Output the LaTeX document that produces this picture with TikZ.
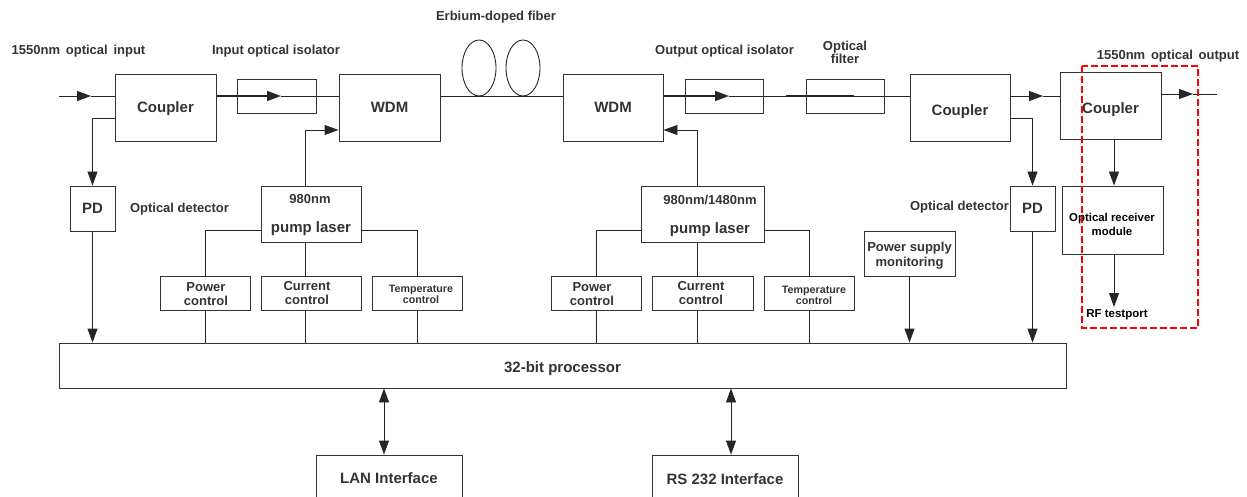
\documentclass[tikz,border=0pt]{standalone}
\usepackage{fontspec}
\setmainfont{Liberation Sans}
\usetikzlibrary{arrows.meta}
\definecolor{inkgray}{gray}{.2}
\newcommand{\smalltemp}{\fontsize{10.7}{11}\selectfont}
\tikzset{
  box/.style={draw=inkgray,line width=.9pt,inner sep=0pt,align=center,text=inkgray,font=\bfseries\fontsize{13}{14}\selectfont},
  bigbox/.style={box,font=\bfseries\fontsize{15}{16}\selectfont,text depth=0pt},
  tag/.style={inner sep=0pt,align=center,text=inkgray,font=\bfseries\fontsize{13}{13.5}\selectfont},
  wire/.style={draw=black!85,line width=.9pt},
  arr/.style={wire,-{Triangle[length=14pt,width=10pt]}},
  twoarr/.style={wire,{Triangle[length=14pt,width=10pt]}-{Triangle[length=14pt,width=10pt]}}
}
\begin{document}
\begin{tikzpicture}[x=1pt,y=-1pt]
      \clip (0,0) rectangle (1247,497);
      \foreach \n/\x/\y/\w/\h in {IsoA/276.5/96/79/34, IsoB/724/96/78/34, FilterA/845/96/78/34,
        PumpA/311/214/100/56, PumpB/702.5/214/123/56, RecvA/1112.5/220/101/68, SupplyA/909.5/253.5/91/45}{
        \node[box,minimum width=\w,minimum height=\h](\n) at (\x,\y){};
      }
      \foreach \n/\x/\w/\tx/\ty/\t in {PowerA/205/90/206/294/{Power\\control}, CurrentA/311/100/307/293/{Current\\control},
        TempA/417/90/421/294.5/{\smalltemp Temperature\\[-3pt]\smalltemp control},
        PowerB/596/90/592/294/{Power\\control}, CurrentB/702.5/101/701/293.5/{Current\\control},
        TempB/809/90/814/295/{\smalltemp Temperature\\[-3pt]\smalltemp control}}{
        \node[box,minimum width=\w,minimum height=34](\n) at (\x,293){};
        \node[box,draw=none](\n Text) at (\tx,\ty){\t};
      }
      \foreach \n/\x/\y/\w/\h/\d/\t in {CouplerA/165.5/107.5/101/67/11/Coupler, WdmA/389.5/107.5/101/67/11/WDM, WdmB/613/107.5/100/67/11/WDM,
        CouplerB/960/107.5/100/67/16/Coupler, CouplerC/1110.5/105.5/101/67/16/Coupler,
        PdA/92.5/208.5/45/45/11/PD, PdB/1032.5/208.5/45/45/11/PD,
        Proc/562.5/365.5/1007/45/14/32-bit processor,
        LanA/389/478/146/46/11/LAN Interface, RsA/725/478/146/46/12/RS 232 Interface}{
        \node[bigbox,text height=\d pt,minimum width=\w,minimum height=\h](\n) at (\x,\y){\t};
      }
      \node[box,draw=none](LbSupply) at (909.5,255.5){Power supply\\[1pt]monitoring};
      \node[tag](LbInput) at (78.5,51){1550nm\, optical\, input};
      \node[tag](LbIsoA) at (276,51){Input optical isolator};
      \node[tag](LbFiber) at (496,17){Erbium-doped fiber};
      \node[tag](LbIsoB) at (724.5,51){Output optical isolator};
      \node[tag](LbFilter) at (845,52.5){Optical\\filter};
      \node[tag](LbOutput) at (1168,56){1550nm\, optical\, output};
      \node[tag](LbDetA) at (179.5,209){Optical detector};
      \node[tag](LbDetB) at (959.5,207){Optical detector};
      \node[tag](LbPumpA) at (310,199.5){980nm};
      \node[bigbox,draw=none,text height=11pt](LbLaserA) at (311,227){pump laser};
      \node[tag](LbPumpB) at (710,200){980nm/1480nm};
      \node[bigbox,draw=none,text height=11pt](LbLaserB) at (710,228){pump laser};
      \node[tag,text=black,font=\bfseries\fontsize{11.4}{14}\selectfont](LbRecv) at (1112,224){Optical receiver\\module};
      \node[tag,text=black,font=\bfseries\fontsize{11.5}{14}\selectfont](LbRf) at (1117,315){RF testport};
      \coordinate(InEnd) at (59,96);
      \coordinate(InTip) at (91,96);
      \coordinate(IsoTipA) at (281,96);
      \coordinate(IsoTipB) at (729,96);
      \coordinate(FilterL) at (786,96);
      \coordinate(FilterR) at (854,96);
      \coordinate(MidTip) at (1043,96);
      \coordinate(OutTip) at (1193,94);
      \coordinate(OutEnd) at (1217,94);
      \coordinate(TapA) at (92.5,118);
      \coordinate(TapB) at (1032.5,118);
      \coordinate(FeedA) at (305,130);
      \coordinate(FeedB) at (697,130);
      \coordinate(RecvX) at (1114,140);
      \coordinate(RfTip) at (1114,307);
      \coordinate(LanX) at (384,420);
      \coordinate(RsX) at (731,420);
      \coordinate(FiberA) at (479,68);
      \coordinate(FiberB) at (523,68);
      \coordinate(RedA) at (1082,66);
      \coordinate(RedB) at (1198,328);
      \draw[arr](InEnd)--(InTip);
      \draw[wire](InTip)--(InTip-|CouplerA.west);
      \draw[arr,line width=1.4pt](InEnd-|CouplerA.east)--(IsoTipA);
      \draw[wire](IsoTipA)--(IsoTipA-|WdmA.west);
      \draw[wire](InEnd-|WdmA.east)--(InEnd-|WdmB.west);
      \draw[arr,line width=1.4pt](InEnd-|WdmB.east)--(IsoTipB);
      \draw[wire](IsoTipB)--(FilterL);
      \draw[wire,line width=1.4pt](FilterL)--(FilterR);
      \draw[wire](FilterR)--(InEnd-|CouplerB.west);
      \draw[arr](InEnd-|CouplerB.east)--(MidTip);
      \draw[wire](MidTip)--(MidTip-|CouplerC.west);
      \draw[arr](OutEnd-|CouplerC.east)--(OutTip);
      \draw[wire](OutTip)--(OutEnd);
      \draw[wire](FiberA) ellipse (17 and 28);
      \draw[wire](FiberB) ellipse (17 and 28);
      \draw[arr](TapA-|CouplerA.west)--(TapA)--(PdA.north);
      \draw[arr](TapB-|CouplerB.east)--(TapB)--(PdB.north);
      \draw[arr](FeedA|-PumpA.north)--(FeedA)--(FeedA-|WdmA.west);
      \draw[arr](FeedB|-PumpB.north)--(FeedB)--(FeedB-|WdmB.east);
      \draw[arr](RecvX)--(RecvX|-RecvA.north);
      \draw[arr](RecvX|-RecvA.south)--(RfTip);
      \foreach \a in {PdA, SupplyA, PdB}{
        \draw[arr](\a.south)--(\a.south|-Proc.north);
      }
      \foreach \p/\s/\c in {PumpA/west/PowerA, PumpA/east/TempA, PumpB/west/PowerB, PumpB/east/TempB}{
        \draw[wire](\p.\s|-SupplyA.north)--(\c.north|-SupplyA.north)--(\c.north);
        \draw[wire](\c.south)--(\c.south|-Proc.north);
      }
      \draw[wire](FeedA|-PumpA.south)--(FeedA|-CurrentA.north);
      \draw[wire](FeedA|-CurrentA.south)--(FeedA|-Proc.north);
      \draw[wire](FeedB|-PumpB.south)--(FeedB|-CurrentB.north);
      \draw[wire](FeedB|-CurrentB.south)--(FeedB|-Proc.north);
      \draw[twoarr](LanX|-Proc.south)--(LanX|-LanA.north);
      \draw[twoarr](RsX|-Proc.south)--(RsX|-RsA.north);
      \draw[red,line width=2.4pt,dash pattern=on 7pt off 3pt](RedA) rectangle (RedB);
    \end{tikzpicture}
\end{document}
